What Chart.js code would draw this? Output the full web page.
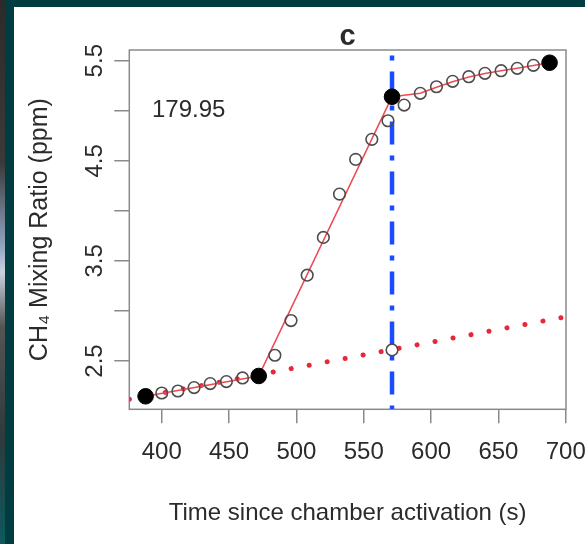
<!DOCTYPE html>
<html lang="en">
<head>
    <meta charset="UTF-8">
    <title>CH4 | chamber c</title>
    <script src="https://cdn.jsdelivr.net/npm/chart.js@4.4.0/dist/chart.umd.min.js"></script>
    <style>
        body { margin: 0; width: 585px; height: 544px; overflow: hidden; position: relative; background: #013c40; }
        .faixa { position: absolute; left: 0; top: 0; width: 5px; height: 544px;
            background: linear-gradient(#2b2b2b 0%, #3a3a3a 30%, #8fa3c0 45%, #c9d3e0 50%, #555 60%, #2e3a3c 80%, #0b5a5e 100%); }
        .painel { position: absolute; left: 14px; top: 7px; width: 571px; height: 537px; background: #fff; }
    </style>
</head>
<body>
<div class="faixa"></div>
<div class="painel"><canvas id="grafico" width="571" height="537"></canvas></div>
<script>
// observed CH4 (open circles)
const obsTime = [400, 412, 424, 436, 448, 460, 484, 496, 508, 520, 532, 544, 556, 568,
                 580, 592, 604, 616, 628, 640, 652, 664, 676];
const obsCH4 = [2.18, 2.20, 2.234, 2.274, 2.294, 2.33, 2.557, 2.904, 3.357, 3.734, 4.167, 4.514, 4.714, 4.90,
                5.057, 5.174, 5.24, 5.294, 5.34, 5.374, 5.40, 5.424, 5.454];

// break points (filled)
const breakTime = [388, 472, 571, 688];
const breakCH4 = [2.147, 2.35, 5.14, 5.48];

// fitted line (solid red)
const fitTime = [388, 472, 571, 592, 604, 616, 628, 640, 652, 664, 676, 688];
const fitCH4 = [2.147, 2.35, 5.14, 5.175, 5.235, 5.29, 5.337, 5.372, 5.40, 5.425, 5.452, 5.48];

// baseline extrapolation (red dots) and its value at the change point
const baseTime = [375.9, 700.2];
const baseCH4 = [2.118, 2.942];
const projTime = [571];
const projCH4 = [2.61];

// change point (blue dot-dash)
const vlineTime = [571, 571];
const vlineCH4 = [5.607, 2.017];

const xTicks = [400, 450, 500, 550, 600, 650, 700];
const xTickLabels = ['400', '450', '500', '550', '600', '650', '700'];
const yTicks = [2.5, 3, 3.5, 4, 4.5, 5, 5.5];
const yTickLabels = ['2.5', '', '3.5', '', '4.5', '', '5.5'];

const titleText = 'c';
const noteText = '179.95';
const notePos = [420, 5.0];

const fonte = '"Liberation Sans", Arial, sans-serif';
const corTexto = '#2b2b2b';

function pares(xs, ys) { return xs.map((x, i) => ({ x: x, y: ys[i] })); }

const extras = {
    id: 'extras',
    beforeDatasetsDraw(chart) {
        const { ctx, chartArea: a } = chart;
        ctx.save();
        ctx.strokeStyle = '#8a8a8a';
        ctx.lineWidth = 1.5;
        ctx.strokeRect(a.left, a.top, a.right - a.left, a.bottom - a.top);
        ctx.restore();
    },
    afterDraw(chart) {
        const { ctx, chartArea: a, scales } = chart;
        ctx.save();
        ctx.fillStyle = corTexto;
        ctx.textAlign = 'center';
        ctx.textBaseline = 'middle';
        ctx.font = '24px ' + fonte;
        yTicks.forEach((v, i) => {
            if (!yTickLabels[i]) return;
            ctx.save();
            ctx.translate(a.left - 34, scales.y.getPixelForValue(v));
            ctx.rotate(-Math.PI / 2);
            ctx.fillText(yTickLabels[i], 0, 0);
            ctx.restore();
        });
        ctx.fillText(noteText, scales.x.getPixelForValue(notePos[0]), scales.y.getPixelForValue(notePos[1]));
        ctx.font = 'bold 29px ' + fonte;
        ctx.fillText(titleText, (a.left + a.right) / 2, a.top - 13);
        ctx.restore();
    }
};

const config = {
    type: 'scatter',
    data: {
        datasets: [
            { data: pares(breakTime, breakCH4), pointRadius: 7.8, pointBackgroundColor: '#000', pointBorderColor: '#000', showLine: false },
            { data: pares(obsTime, obsCH4), pointRadius: 5.8, pointBorderWidth: 1.6, pointBorderColor: '#4d4d4d', pointBackgroundColor: 'rgba(0,0,0,0)', showLine: false },
            { data: pares(projTime, projCH4), pointRadius: 5.8, pointBorderWidth: 1.6, pointBorderColor: '#4d4d4d', pointBackgroundColor: 'rgba(0,0,0,0)', showLine: false },
            { data: pares(fitTime, fitCH4), showLine: true, borderColor: '#ee4b55', borderWidth: 1.6, pointRadius: 0, tension: 0 },
            { data: pares(baseTime, baseCH4), showLine: true, borderColor: '#e8283a', borderWidth: 5, borderCapStyle: 'round', borderDash: [0.1, 18.2], pointRadius: 0 },
            { data: pares(vlineTime, vlineCH4), showLine: true, borderColor: '#1a4cff', borderWidth: 4.5, borderCapStyle: 'butt', borderDash: [5, 11, 23, 11], borderDashOffset: 44.5, pointRadius: 0 }
        ]
    },
    options: {
        responsive: false,
        animation: false,
        layout: { padding: { top: 43, right: 19, left: 0, bottom: 0 } },
        plugins: { legend: { display: false }, tooltip: { enabled: false } },
        scales: {
            x: {
                type: 'linear', min: 375.9, max: 700.2,
                afterBuildTicks: (s) => { s.ticks = xTicks.map(v => ({ value: v })); },
                afterFit: (s) => { s.height = 134.7; s.paddingLeft = 0; s.paddingRight = 0; },
                ticks: {
                    autoSkip: false, maxRotation: 0, padding: 15,
                    color: corTexto, font: { size: 24, family: fonte },
                    callback: (v) => xTickLabels[xTicks.indexOf(v)]
                },
                grid: { drawOnChartArea: false, drawTicks: true, tickLength: 14, color: '#8a8a8a', lineWidth: 1.5 },
                border: { display: false },
                title: {
                    display: true, text: 'Time since chamber activation (s)', color: corTexto,
                    font: { size: 24, family: fonte, lineHeight: 1.2 }, padding: { top: 0, bottom: 16.6 }
                }
            },
            y: {
                type: 'linear', min: 2.017, max: 5.607,
                afterBuildTicks: (s) => { s.ticks = yTicks.map(v => ({ value: v })); },
                afterFit: (s) => { s.width = 115.3; },
                ticks: { display: false },
                grid: { drawOnChartArea: false, drawTicks: true, tickLength: 15, color: '#8a8a8a', lineWidth: 1.5 },
                border: { display: false },
                title: {
                    display: true, text: 'CH₄ Mixing Ratio (ppm)', color: corTexto,
                    font: { size: 25, family: fonte, lineHeight: 1.2 }, padding: { top: 11, bottom: 0 }
                }
            }
        }
    },
    plugins: [extras]
};

const grafico = new Chart(document.getElementById('grafico'), config);
</script>
</body>
</html>
